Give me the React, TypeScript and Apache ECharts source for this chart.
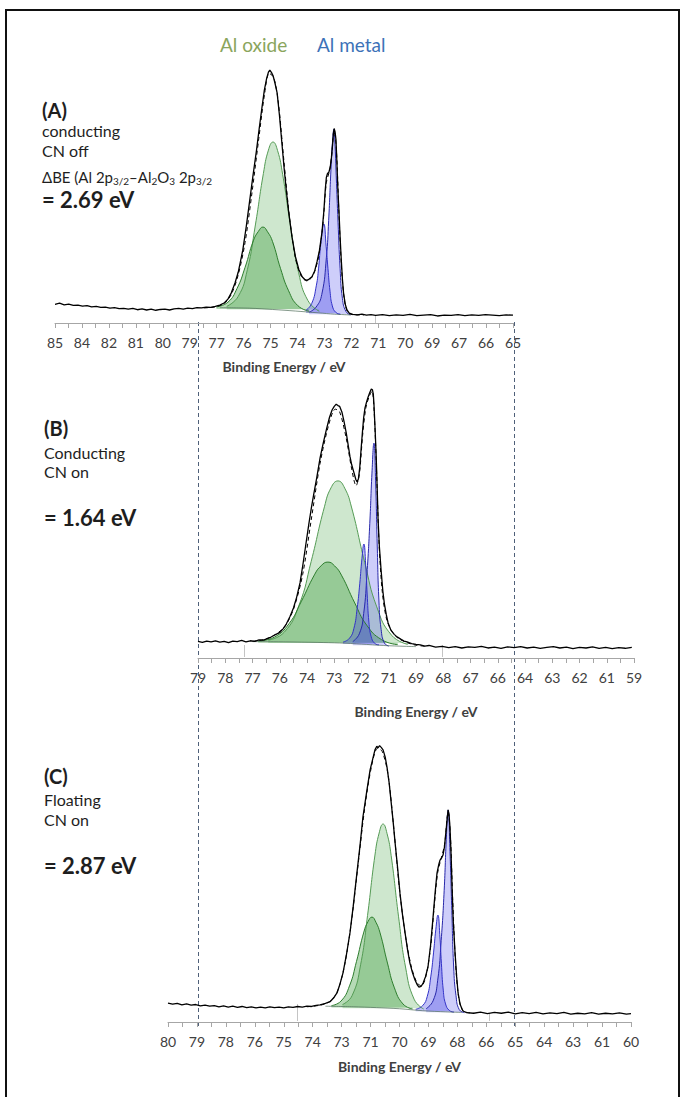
import React, { useEffect, useRef } from "react";
import * as echarts from "echarts";

const FONT = "Lato, 'Open Sans', sans-serif";

// ---------- tick labels (as printed on each axis) ----------
const ticksA = ["85", "84", "82", "81", "80", "79", "77", "76", "75", "74", "73", "72", "71", "70", "69", "67", "66", "65"];
const ticksB = ["79", "78", "77", "76", "74", "73", "72", "71", "69", "68", "67", "66", "64", "63", "62", "61", "59"];
const ticksC = ["80", "79", "78", "76", "75", "74", "73", "71", "70", "69", "68", "66", "65", "64", "63", "61", "60"];

// ---------- panel A (conducting, CN off) : [binding energy eV, intensity a.u.] ----------
const measuredA: [number, number][] = [
  [85, 7.2], [84.8, 7.6], [84.6, 7.0], [84.4, 7.3], [84.2, 6.8], [84, 6.9], [83.8, 6.5], [83.6, 6.7], [83.4, 6.2], [83.2, 6.4],
  [83, 6.0], [82.8, 6.1], [82.6, 5.7], [82.4, 5.9], [82.2, 5.5], [82, 5.6], [81.8, 5.3], [81.6, 5.6], [81.4, 5.1], [81.2, 5.4],
  [81, 5.0], [80.8, 5.3], [80.6, 4.9], [80.4, 5.2], [80.2, 5.3], [80, 5.0], [79.8, 5.4], [79.6, 5.6], [79.4, 5.3], [79.2, 5.7],
  [79, 5.5], [78.8, 5.9], [78.6, 5.8], [78.4, 6.1], [78.2, 6.0], [78, 6.4], [77.8, 6.9], [77.6, 7.8], [77.45, 9.2], [77.3, 11.6],
  [77.14, 15.4], [77.0, 19.5], [76.8, 28], [76.65, 37], [76.5, 47], [76.35, 57], [76.2, 66.5], [76.08, 75], [75.96, 83], [75.86, 89.5],
  [75.76, 94], [75.68, 96.5], [75.62, 97.3], [75.55, 96.4], [75.48, 95.2], [75.4, 92.5], [75.3, 88.5], [75.2, 80], [75.1, 70], [75.0, 60],
  [74.9, 51], [74.8, 43], [74.65, 33], [74.5, 25.5], [74.35, 20.5], [74.2, 17.7], [74.1, 16.8], [74.0, 16.4], [73.9, 16.9], [73.78, 17.8],
  [73.66, 20], [73.56, 23.5], [73.45, 28], [73.34, 35], [73.26, 43], [73.2, 51], [73.15, 56], [73.1, 57.5], [73.04, 58], [72.98, 60],
  [72.93, 63.5], [72.88, 68.5], [72.84, 73], [72.81, 74.8], [72.77, 73.5], [72.73, 70.5], [72.69, 62], [72.65, 52], [72.6, 43], [72.55, 33],
  [72.5, 24.5], [72.45, 17], [72.4, 11.5], [72.32, 7], [72.25, 5], [72.15, 3.8], [72.0, 3.3], [71.8, 3.1], [71.6, 3.4], [71.4, 3.0],
  [71.2, 3.2], [71, 2.9], [70.7, 3.2], [70.4, 2.8], [70.1, 3.1], [69.8, 2.9], [69.5, 3.3], [69.2, 2.8], [68.9, 3.0], [68.6, 3.2],
  [68.3, 2.7], [68.0, 3.0], [67.7, 2.9], [67.4, 3.2], [67.1, 2.8], [66.8, 3.1], [66.5, 2.9], [66.2, 3.2], [65.9, 3.0], [65.6, 2.8],
  [65.3, 3.1], [65.0, 3.0],
];
const fitA: [number, number][] = [
  [78.5, 5.8], [78, 6.2], [77.6, 7.6], [77.3, 11], [77.0, 18.5], [76.7, 31], [76.4, 50], [76.1, 71], [75.85, 88], [75.65, 96],
  [75.45, 94.5], [75.25, 85], [75.0, 62], [74.75, 40], [74.5, 25], [74.25, 18], [74.0, 16.2], [73.75, 18], [73.5, 25], [73.3, 38],
  [73.15, 54], [73.0, 59], [72.9, 66], [72.82, 74], [72.72, 68], [72.6, 42], [72.48, 20], [72.35, 8], [72.2, 4], [72.0, 3.2], [71.5, 3.1],
];
const bgA: [number, number][] = [[77.8, 5.9], [76.5, 5.7], [75.5, 5.2], [74.5, 4.6], [73.5, 3.9], [72.8, 3.4], [72.1, 3.1]];
const oxide32A: [number, number][] = [
  [77.5, 6.4], [77.0, 10.2], [76.6, 20.5], [76.25, 37.7], [75.9, 57.5], [75.68, 66.5], [75.48, 69.6], [75.28, 66.3], [75.06, 57.2],
  [74.71, 36.9], [74.36, 19.3], [73.96, 8.7], [73.46, 4.5],
];
const oxide12A: [number, number][] = [
  [77.95, 6.2], [77.45, 8.0], [77.05, 13.3], [76.7, 21.4], [76.34, 31.6], [76.12, 35.2], [75.92, 36.9], [75.72, 35.1], [75.5, 31.3],
  [75.15, 20.9], [74.8, 12.4], [74.4, 6.7], [73.9, 4.5],
];
const metal32A: [number, number][] = [
  [73.9, 4.2], [73.6, 6.1], [73.35, 11], [73.15, 25.1], [73.05, 39.4], [72.95, 59], [72.88, 70], [72.82, 74.6], [72.77, 68],
  [72.72, 56.6], [72.64, 38.8], [72.55, 21], [72.45, 9.5], [72.3, 4.5], [72.1, 3.1],
];
const metal12A: [number, number][] = [
  [74.04, 4.9], [73.79, 7.5], [73.59, 14.3], [73.49, 21.1], [73.39, 30.7], [73.26, 38.1], [73.16, 29.5], [73.08, 20.9], [72.99, 12.2],
  [72.89, 6.6], [72.74, 4.1], [72.54, 3.3],
];

// ---------- panel B (conducting, CN on) ----------
const measuredB: [number, number][] = [
  [79, 6.0], [78.8, 5.6], [78.6, 6.1], [78.4, 5.8], [78.2, 6.2], [78, 5.7], [77.8, 6.0], [77.6, 5.5], [77.4, 6.1], [77.2, 5.9],
  [77, 6.3], [76.8, 5.8], [76.6, 6.2], [76.4, 6.0], [76.2, 6.5], [76.0, 6.4], [75.85, 6.9], [75.7, 7.3], [75.55, 8.0], [75.4, 8.6],
  [75.24, 9.2], [75.1, 10.5], [74.95, 12.2], [74.78, 14.9], [74.62, 18], [74.47, 22], [74.32, 27], [74.18, 34], [74.05, 41], [73.92, 48],
  [73.8, 54], [73.7, 58.5], [73.55, 65], [73.4, 72], [73.25, 77.5], [73.1, 82.5], [72.97, 86.5], [72.85, 89.2], [72.75, 90.5], [72.66, 91.3],
  [72.58, 90.8], [72.5, 90.5], [72.4, 88.5], [72.3, 85], [72.2, 81], [72.1, 76], [72.03, 72.5], [71.95, 69.5], [71.84, 66.5], [71.76, 64.2],
  [71.7, 63.3], [71.64, 64.5], [71.58, 68.5], [71.52, 75], [71.46, 81], [71.4, 86.5], [71.34, 90], [71.27, 92], [71.2, 93.8], [71.12, 95.5],
  [71.05, 96.8], [71.0, 96.5], [70.96, 95], [70.93, 91.5], [70.88, 83], [70.83, 73.5], [70.78, 61], [70.74, 50], [70.68, 40], [70.6, 31.5],
  [70.52, 24], [70.45, 19.5], [70.36, 15.5], [70.28, 12.6], [70.15, 10], [70.0, 8.5], [69.87, 7.6], [69.7, 6.8], [69.55, 6.1], [69.41, 5.8],
  [69.2, 5.2], [69.0, 4.9], [68.8, 4.7], [68.6, 4.3], [68.4, 4.5], [68.1, 3.9], [67.8, 4.2], [67.5, 3.7], [67.2, 4.1], [66.9, 3.6],
  [66.6, 4.0], [66.3, 3.8], [66.0, 4.2], [65.7, 3.6], [65.4, 3.9], [65.1, 3.5], [64.8, 4.0], [64.5, 3.7], [64.2, 4.1], [63.9, 3.6],
  [63.6, 3.9], [63.3, 3.5], [63.0, 3.8], [62.7, 4.1], [62.4, 3.6], [62.1, 3.9], [61.8, 3.4], [61.5, 3.8], [61.2, 3.6], [60.9, 4.0],
  [60.6, 3.5], [60.3, 3.8], [60.0, 3.4], [59.7, 3.7], [59.4, 3.5], [59.1, 3.8],
];
const fitB: [number, number][] = [
  [76.5, 6], [76, 6.6], [75.5, 8.2], [75, 11.5], [74.6, 18], [74.2, 30], [73.8, 50], [73.4, 70], [73.0, 84], [72.7, 89.5],
  [72.5, 88.5], [72.2, 79], [71.95, 68], [71.75, 62], [71.6, 66], [71.45, 80], [71.3, 90], [71.15, 94], [71.02, 96], [70.93, 90],
  [70.82, 70], [70.7, 42], [70.55, 24], [70.35, 14], [70.1, 9.5], [69.8, 7], [69.4, 5.5], [69, 4.6], [68.5, 4.2],
];
const bgB: [number, number][] = [[76.5, 5.9], [75, 5.8], [73.5, 5.6], [72.5, 5.4], [71.5, 5.0], [70.5, 4.5], [69.5, 4.2], [69.0, 4.1]];
const oxide32B: [number, number][] = [
  [75.78, 6.4], [75.04, 9.3], [74.36, 19.1], [73.81, 34.7], [73.2, 54.4], [72.9, 61.2], [72.58, 63.7], [72.27, 61.1], [71.96, 54.3],
  [71.35, 34.3], [70.8, 18.4], [70.12, 8.2], [69.38, 4.9],
];
const oxide12B: [number, number][] = [
  [76.24, 6.1], [75.5, 7.5], [74.82, 12.4], [74.27, 20.2], [73.66, 29.9], [73.35, 33.2], [73.04, 34.5], [72.73, 33.1], [72.42, 29.8],
  [71.81, 19.8], [71.26, 11.8], [70.58, 6.6], [69.84, 4.8],
];
const metal32B: [number, number][] = [
  [71.9, 5.9], [71.6, 8.7], [71.4, 16], [71.25, 30.3], [71.12, 48.4], [71.02, 66.5], [70.93, 77.3], [70.85, 62.6], [70.78, 41],
  [70.7, 20.5], [70.6, 10.3], [70.45, 5.4], [70.25, 4.3],
];
const metal12B: [number, number][] = [
  [72.35, 5.7], [72.05, 7.1], [71.85, 10.6], [71.7, 17.8], [71.58, 26.7], [71.48, 35.7], [71.39, 41], [71.31, 33.8], [71.24, 23],
  [71.16, 12.9], [71.06, 7.8], [70.9, 5.3], [70.7, 4.7],
];

// ---------- panel C (floating, CN on) ----------
const measuredC: [number, number][] = [
  [80, 6.7], [79.8, 6.3], [79.6, 6.6], [79.4, 6.1], [79.2, 6.4], [79, 6.0], [78.8, 6.2], [78.6, 5.7], [78.4, 6.0], [78.2, 5.6],
  [78, 5.8], [77.8, 5.4], [77.6, 5.7], [77.4, 5.3], [77.2, 5.6], [77, 5.2], [76.8, 5.5], [76.6, 5.1], [76.4, 5.4], [76.2, 5.0],
  [76, 5.3], [75.8, 5.0], [75.6, 5.4], [75.4, 5.1], [75.2, 5.3], [75, 5.0], [74.8, 5.4], [74.6, 5.2], [74.4, 5.5], [74.2, 5.3],
  [74, 5.6], [73.8, 5.5], [73.6, 5.9], [73.43, 6.1], [73.2, 6.6], [73.0, 7.2], [72.85, 8.5], [72.7, 10.3], [72.57, 13.5], [72.44, 17.4],
  [72.3, 23.5], [72.14, 31.6], [72.0, 41], [71.84, 52.8], [71.7, 63], [71.58, 72.7], [71.42, 81.5], [71.27, 89.4], [71.15, 93.5], [71.06, 96.5],
  [70.98, 97.8], [70.93, 97.2], [70.86, 98], [70.79, 97.4], [70.71, 96.5], [70.62, 94], [70.54, 90.4], [70.45, 85], [70.37, 78.7], [70.28, 71.5],
  [70.19, 63.5], [70.08, 54.5], [69.98, 45.7], [69.87, 38], [69.76, 31.6], [69.65, 25.5], [69.55, 20.9], [69.44, 17.5], [69.33, 14.9], [69.24, 13.3],
  [69.16, 12.4], [69.07, 12.6], [68.98, 13.8], [68.88, 16], [68.77, 19.5], [68.66, 27], [68.55, 37.2], [68.46, 46], [68.38, 52.8], [68.3, 56],
  [68.25, 57.4], [68.18, 58.2], [68.12, 59.2], [68.06, 62], [68.0, 67], [67.94, 72], [67.9, 75.2], [67.86, 73.5], [67.82, 69.1], [67.77, 59],
  [67.73, 47.9], [67.68, 36], [67.6, 24.5], [67.53, 16], [67.47, 10.3], [67.38, 6.2], [67.26, 3.9], [67.1, 3.3], [66.8, 3.1], [66.5, 3.5],
  [66.2, 3.0], [65.9, 3.4], [65.6, 3.1], [65.3, 3.5], [65.0, 2.9], [64.7, 3.3], [64.4, 3.0], [64.1, 3.4], [63.8, 2.9], [63.5, 3.2],
  [63.2, 3.0], [62.9, 3.4], [62.6, 2.8], [62.3, 3.1], [62.0, 2.9], [61.7, 3.3], [61.4, 2.8], [61.1, 3.1], [60.8, 2.9], [60.5, 3.2], [60.2, 2.8], [60.0, 3.0],
];
const fitC: [number, number][] = [
  [74, 5.4], [73.4, 6], [73, 7.3], [72.7, 10.5], [72.4, 19], [72.1, 34], [71.8, 55], [71.5, 76], [71.2, 91], [70.95, 97],
  [70.75, 96], [70.5, 88], [70.25, 69], [70, 47], [69.75, 31], [69.5, 20], [69.25, 14], [69.05, 12.8], [68.85, 16.5], [68.65, 27],
  [68.5, 41], [68.35, 53], [68.2, 58], [68.05, 63], [67.95, 72], [67.9, 74.5], [67.8, 66], [67.7, 43], [67.58, 21], [67.45, 9],
  [67.3, 4.5], [67.1, 3.4], [66.8, 3.2],
];
const bgC: [number, number][] = [[73.2, 5.6], [72, 5.4], [71, 5.1], [70, 4.7], [69, 4.0], [68, 3.6], [67.3, 3.4]];
const oxide32C: [number, number][] = [
  [72.46, 6.2], [72.05, 9.3], [71.68, 20.3], [71.38, 37.8], [71.06, 59.2], [70.88, 67], [70.71, 70.2], [70.54, 66.9], [70.36, 59],
  [70.04, 37.3], [69.74, 19.5], [69.37, 8.1], [68.96, 4.6],
];
const oxide12C: [number, number][] = [
  [72.94, 5.8], [72.53, 7.4], [72.16, 12.8], [71.86, 21.4], [71.54, 31.9], [71.36, 35.6], [71.19, 37.2], [71.02, 35.4], [70.84, 31.6],
  [70.52, 20.9], [70.22, 12.1], [69.85, 6.4], [69.44, 4.6],
];
const metal32C: [number, number][] = [
  [68.85, 4.7], [68.55, 7.5], [68.35, 14.8], [68.2, 28.8], [68.07, 46.7], [67.98, 64.6], [67.9, 75.2], [67.82, 60.5], [67.74, 39.5],
  [67.66, 19.5], [67.56, 9.4], [67.42, 4.4], [67.2, 3.3],
];
const metal12C: [number, number][] = [
  [69.3, 4.5], [69.0, 5.8], [68.8, 9.1], [68.65, 16], [68.53, 24.5], [68.43, 32.9], [68.34, 37.9], [68.26, 31.1], [68.19, 20.8],
  [68.11, 11.3], [68.01, 6.4], [67.85, 4.1], [67.65, 3.5],
];

// background level under each fitted component (a.u.)
const baseA = { ox32: 5.2, ox12: 5.4, m32: 3.4, m12: 3.8 };
const baseB = { ox32: 5.4, ox12: 5.5, m32: 4.6, m12: 5.0 };
const baseC = { ox32: 4.9, ox12: 5.1, m32: 3.5, m12: 3.8 };

function xAxisFor(gridIndex: number, min: number, max: number, labels: string[], nameGap: number) {
  const step = (max - min) / (labels.length - 1);
  const labelVals = labels.map((_, k) => +(max - k * step).toFixed(6));
  const tickVals: number[] = [];
  for (let k = 0; k <= 2 * (labels.length - 1); k++) tickVals.push(+(max - (k * step) / 2).toFixed(6));
  return {
    type: "value",
    gridIndex,
    min,
    max,
    inverse: true,
    splitLine: { show: false },
    axisLine: { show: true, lineStyle: { color: "#a6a6a6", width: 1 } },
    axisTick: { show: true, customValues: tickVals, length: 5, lineStyle: { color: "#a6a6a6" } },
    axisLabel: {
      customValues: labelVals,
      color: "#404040",
      fontSize: 14,
      fontFamily: FONT,
      margin: 12,
      formatter: (v: number) => labels[Math.round((max - v) / step)] ?? "",
    },
    name: "Binding Energy / eV",
    nameLocation: "middle",
    nameGap,
    nameTextStyle: { color: "#404040", fontSize: 14, fontWeight: "bold", fontFamily: FONT },
  };
}

function component(idx: number, data: [number, number][], origin: number, fill: string, line: string) {
  return {
    type: "line",
    xAxisIndex: idx,
    yAxisIndex: idx,
    data,
    smooth: 0.5,
    symbol: "none",
    lineStyle: { color: line, width: 1 },
    areaStyle: { color: fill, origin },
    z: 2,
  };
}

function plainLine(idx: number, data: [number, number][], color: string, width: number, type: any, smooth: number | boolean, z: number) {
  return {
    type: "line",
    xAxisIndex: idx,
    yAxisIndex: idx,
    data,
    smooth,
    symbol: "none",
    lineStyle: { color, width, type },
    z,
  };
}

function panelSeries(
  idx: number,
  measured: [number, number][],
  fit: [number, number][],
  bg: [number, number][],
  ox32: [number, number][],
  ox12: [number, number][],
  m32: [number, number][],
  m12: [number, number][],
  base: { ox32: number; ox12: number; m32: number; m12: number }
) {
  return [
    component(idx, ox32, base.ox32, "rgba(70,165,70,0.38)", "rgb(85,155,85)"),
    component(idx, ox12, base.ox12, "rgba(45,150,45,0.5)", "rgb(45,125,45)"),
    component(idx, m32, base.m32, "rgba(70,70,235,0.38)", "rgb(40,40,170)"),
    component(idx, m12, base.m12, "rgba(55,55,225,0.45)", "rgb(50,50,200)"),
    plainLine(idx, bg, "rgba(80,110,90,0.7)", 1, "solid", 0.3, 2),
    plainLine(idx, fit, "#000", 1, [4, 3], 0.3, 3),
    plainLine(idx, measured, "#000", 1.3, "solid", false, 4),
  ];
}

const textColor = "#1e1e1e";

function leftText(x: number, y: number, text: string, size: number, bold = false) {
  return {
    type: "text",
    x,
    y,
    style: {
      text,
      fill: textColor,
      font: `${bold ? "bold " : ""}${size}px ${FONT}`,
      verticalAlign: "middle",
    },
  };
}

function grayMark(x1: number, y1: number, x2: number, y2: number) {
  return { type: "line", silent: true, shape: { x1, y1, x2, y2 }, style: { stroke: "#c4c4c4", lineWidth: 1 } };
}

export default function App() {
  const ref = useRef<HTMLDivElement>(null);
  useEffect(() => {
    document.body.style.margin = "0";
    if (!ref.current) return;
    const chart = echarts.init(ref.current, undefined, { renderer: "svg" });
    const sub = { fontSize: 10, fontFamily: FONT, fill: textColor, lineHeight: 8, verticalAlign: "bottom" };
    const nor = { fontSize: 15, fontFamily: FONT, fill: textColor, lineHeight: 18 };
    chart.setOption({
      animation: false,
      backgroundColor: "#ffffff",
      grid: [
        { left: 55, width: 458, top: 63, height: 260 },
        { left: 198, width: 436, top: 380, height: 278 },
        { left: 168, width: 463, top: 740, height: 282 },
      ],
      xAxis: [
        xAxisFor(0, 65, 85, ticksA, 36),
        xAxisFor(1, 59, 79, ticksB, 46),
        xAxisFor(2, 60, 80, ticksC, 37),
      ],
      yAxis: [0, 1, 2].map((i) => ({ type: "value", gridIndex: i, min: 0, max: 100, show: false })),
      series: [
        ...panelSeries(0, measuredA, fitA, bgA, oxide32A, oxide12A, metal32A, metal12A, baseA),
        ...panelSeries(1, measuredB, fitB, bgB, oxide32B, oxide12B, metal32B, metal12B, baseB),
        ...panelSeries(2, measuredC, fitC, bgC, oxide32C, oxide12C, metal32C, metal12C, baseC),
      ],
      graphic: [
        {
          type: "rect",
          silent: true,
          shape: { x: 6, y: 10, width: 673, height: 1100 },
          style: { fill: "none", stroke: "#111", lineWidth: 2 },
        },
        grayMark(375.5, 316, 375.5, 323),
        grayMark(244.5, 645, 244.5, 657),
        grayMark(442.5, 645, 442.5, 657),
        grayMark(297.5, 1004, 297.5, 1021),
        grayMark(489.5, 1013, 489.5, 1021),
        {
          type: "line",
          silent: true,
          shape: { x1: 198.5, y1: 322, x2: 198.5, y2: 1028 },
          style: { stroke: "#4f6079", lineWidth: 1, lineDash: [4, 3] },
        },
        {
          type: "line",
          silent: true,
          shape: { x1: 514.5, y1: 322, x2: 514.5, y2: 1028 },
          style: { stroke: "#4f6079", lineWidth: 1, lineDash: [4, 3] },
        },
        {
          type: "text",
          x: 220,
          y: 44,
          style: { text: "Al oxide", fill: "#8aa55c", font: `19px ${FONT}`, verticalAlign: "middle" },
        },
        {
          type: "text",
          x: 317,
          y: 44,
          style: { text: "Al metal", fill: "#3c72b8", font: `19px ${FONT}`, verticalAlign: "middle" },
        },
        leftText(42, 110, "(A)", 20, true),
        leftText(42, 130, "conducting", 16),
        leftText(42, 150, "CN off", 16),
        {
          type: "text",
          x: 42,
          y: 168,
          style: {
            text: "{n|ΔBE (Al 2p}{s|3/2}{n|–Al}{s|2}{n|O}{s|3}{n| 2p}{s|3/2}",
            rich: { n: nor, s: sub },
            verticalAlign: "top",
          },
        },
        leftText(42, 199, "= 2.69 eV", 22, true),
        leftText(44, 428, "(B)", 20, true),
        leftText(44, 452, "Conducting", 16),
        leftText(44, 471, "CN on", 16),
        leftText(44, 517, "= 1.64 eV", 22, true),
        leftText(44, 776, "(C)", 20, true),
        leftText(44, 799, "Floating", 16),
        leftText(44, 819, "CN on", 16),
        leftText(44, 865, "= 2.87 eV", 22, true),
      ],
    });
    return () => chart.dispose();
  }, []);
  return <div ref={ref} style={{ width: 681, height: 1097 }} />;
}
